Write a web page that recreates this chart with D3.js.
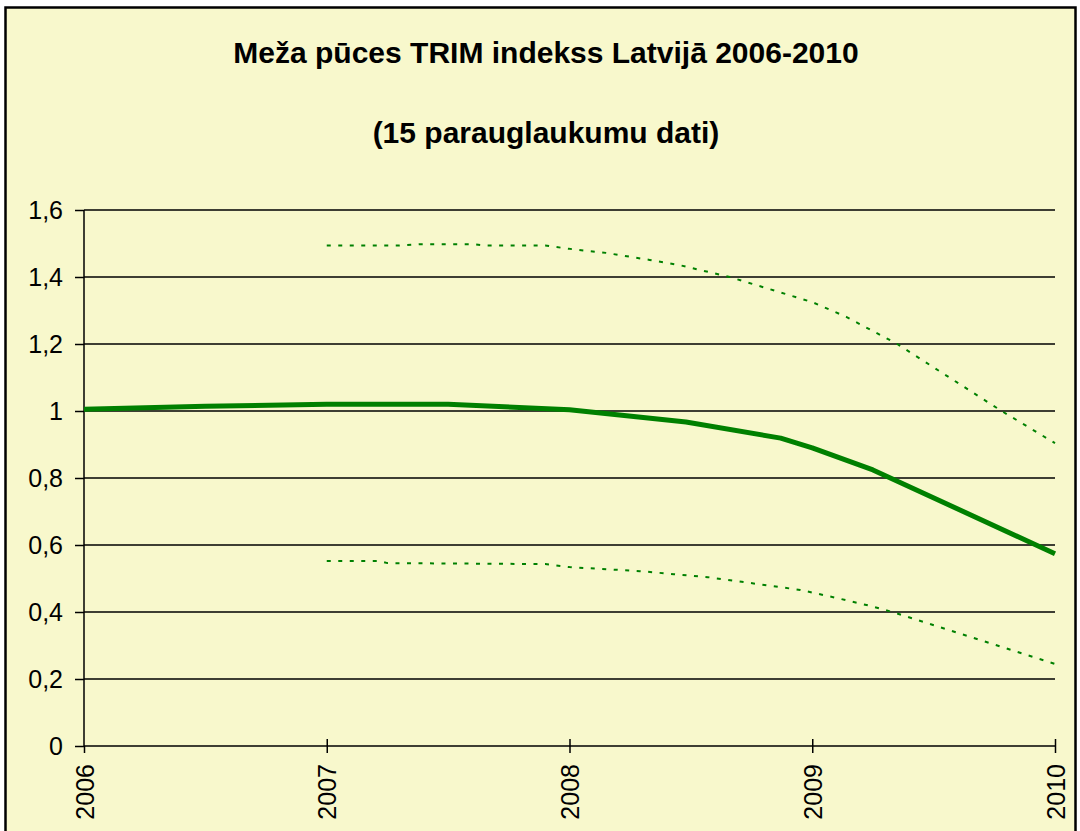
<!DOCTYPE html>
<html>
<head>
<meta charset="utf-8">
<script src="https://cdn.jsdelivr.net/npm/d3@7"></script>
<style>
  body { margin: 0; background: #fff; }
  svg text { font-family: 'Liberation Sans', Arial, sans-serif; }
</style>
</head>
<body>
<div id="chart"></div>
<script>
const titleLines = ['Meža pūces TRIM indekss Latvijā 2006-2010', '(15 parauglaukumu dati)'];
const yearTicks = [2006, 2007, 2008, 2009, 2010];
const valueTicks = [0, 0.2, 0.4, 0.6, 0.8, 1, 1.2, 1.4, 1.6];

// TRIM index
const indexYears = [2006, 2006.5, 2007, 2007.5, 2008, 2008.48, 2008.87, 2009, 2009.25, 2010];
const indexValues = [1.005, 1.014, 1.02, 1.02, 1.004, 0.967, 0.919, 0.89, 0.824, 0.574];

// upper confidence limit
const upperYears = [2007, 2007.3, 2007.38, 2007.6, 2007.65, 2007.9, 2008, 2008.15, 2008.33, 2008.45, 2008.66, 2009, 2009.14, 2009.35, 2009.78, 2010];
const upperValues = [1.494, 1.494, 1.498, 1.498, 1.494, 1.494, 1.484, 1.472, 1.451, 1.436, 1.40, 1.325, 1.281, 1.2, 1.0, 0.904];

// lower confidence limit
const lowerYears = [2007, 2007.22, 2007.25, 2007.9, 2008, 2008.29, 2008.43, 2008.57, 2008.95, 2009.1, 2009.24, 2009.33, 2010];
const lowerValues = [0.552, 0.552, 0.546, 0.543, 0.534, 0.522, 0.513, 0.504, 0.466, 0.442, 0.418, 0.40, 0.245];

const W = 1080, H = 831;
const margin = { top: 210, right: 25, bottom: 85, left: 84 };
const width = 1055 - margin.left;
const height = 746 - margin.top;

const svg = d3.select('#chart')
  .append('svg')
  .attr('width', W)
  .attr('height', H);

svg.append('rect')
  .attr('x', 5.5)
  .attr('y', 7.5)
  .attr('width', 1070)
  .attr('height', 840)
  .attr('fill', '#F8F8CC')
  .attr('stroke', '#000')
  .attr('stroke-width', 2.5);

svg.selectAll('.title')
  .data(titleLines)
  .enter()
  .append('text')
  .attr('class', 'title')
  .attr('x', 546)
  .attr('y', (d, i) => 63 + i * 80)
  .attr('text-anchor', 'middle')
  .attr('font-weight', 'bold')
  .style('font-size', '30px')
  .attr('fill', '#000')
  .text(d => d);

const g = svg.append('g')
  .attr('transform', `translate(${margin.left},${margin.top})`);

const x = d3.scaleLinear()
  .domain([2006, 2010])
  .range([0, width]);

const y = d3.scaleLinear()
  .domain([0, 1.6])
  .range([height, 0]);

// grid
g.append('g')
  .selectAll('line')
  .data(valueTicks.filter(d => d > 0))
  .enter()
  .append('line')
  .attr('x1', 0)
  .attr('x2', width)
  .attr('y1', d => y(d))
  .attr('y2', d => y(d))
  .attr('stroke', '#000')
  .attr('stroke-width', 1.5);

// Y axis
const yAxis = g.append('g')
  .call(d3.axisLeft(y).tickValues(valueTicks).tickSize(9).tickPadding(12)
    .tickFormat(d => String(d).replace('.', ',')));
yAxis.selectAll('path, line').attr('stroke', '#000').attr('stroke-width', 1.5);
yAxis.select('.domain').attr('d', `M0,0V${height}`);
yAxis.selectAll('text')
  .attr('fill', '#000')
  .style('font-size', '25px');

// X axis
const xAxis = g.append('g')
  .attr('transform', `translate(0,${height})`)
  .call(d3.axisBottom(x).tickValues(yearTicks).tickSize(7).tickFormat(d3.format('d')));
xAxis.selectAll('path, line').attr('stroke', '#000').attr('stroke-width', 1.5);
xAxis.select('.domain').attr('d', `M0,0H${width}`);
xAxis.selectAll('.tick line').attr('y1', d => d === 2006 ? 0 : -7);
xAxis.selectAll('text')
  .attr('fill', '#000')
  .style('font-size', '25px')
  .attr('text-anchor', 'end')
  .attr('dy', null)
  .attr('y', 0)
  .attr('transform', 'translate(9,18) rotate(-90)');

const line = d3.line()
  .x(d => x(d[0]))
  .y(d => y(d[1]));

g.append('path')
  .datum(d3.zip(upperYears, upperValues))
  .attr('fill', 'none')
  .attr('stroke', '#008000')
  .attr('stroke-width', 2)
  .attr('stroke-dasharray', '4,7.5')
  .attr('d', line);

g.append('path')
  .datum(d3.zip(lowerYears, lowerValues))
  .attr('fill', 'none')
  .attr('stroke', '#008000')
  .attr('stroke-width', 2)
  .attr('stroke-dasharray', '4,7.5')
  .attr('d', line);

g.append('path')
  .datum(d3.zip(indexYears, indexValues))
  .attr('fill', 'none')
  .attr('stroke', '#008000')
  .attr('stroke-width', 5)
  .attr('stroke-linejoin', 'round')
  .attr('d', line);
</script>
</body>
</html>
